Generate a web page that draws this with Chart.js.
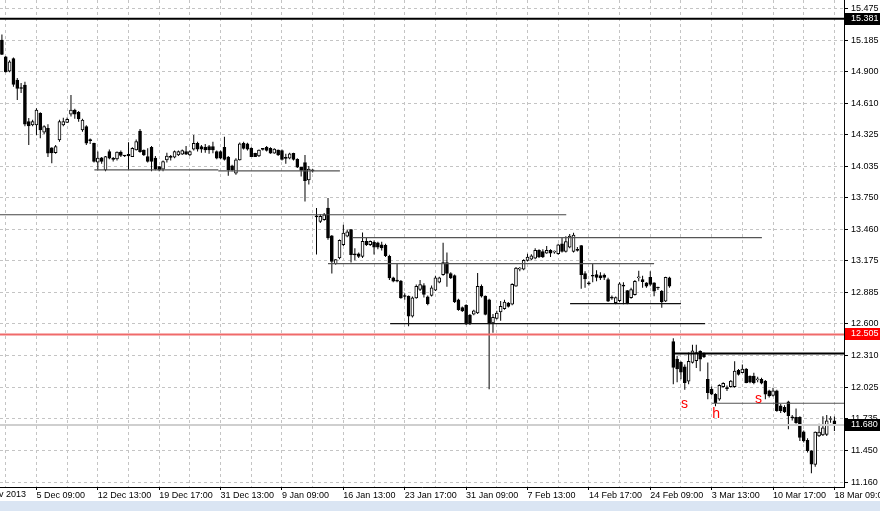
<!DOCTYPE html>
<html>
<head>
<meta charset="utf-8">
<script src="https://cdn.jsdelivr.net/npm/chart.js@4.4.1/dist/chart.umd.min.js"></script>
<style>
  html, body { margin: 0; padding: 0; background: #fff; }
  canvas { display: block; }
</style>
</head>
<body>
<canvas id="chart" width="880" height="511"></canvas>
<script>
// candles, oldest first
const opens = [
  15.185, 15.033, 14.903, 15.018, 14.821, 14.752, 14.776, 14.443, 14.412, 14.412,
  14.519, 14.346, 14.382, 14.204, 14.161, 14.276, 14.412, 14.437, 14.510, 14.549,
  14.528, 14.367, 14.397, 14.276, 14.246, 14.074, 14.113, 14.004, 14.170, 14.104,
  14.104, 14.165, 14.135, 14.146, 14.124, 14.185, 14.358, 14.185, 14.125, 14.210,
  14.110, 14.034, 14.010, 14.095, 14.120, 14.120, 14.140, 14.147, 14.170, 14.140,
  14.192, 14.246, 14.215, 14.210, 14.215, 14.215, 14.170, 14.170, 14.210, 14.120,
  14.040, 13.974, 14.095, 14.246, 14.240, 14.200, 14.155, 14.131, 14.192, 14.210,
  14.200, 14.155, 14.185, 14.180, 14.110, 14.110, 14.155, 14.100, 14.028, 14.070,
  13.913, 13.998, 13.580, 13.534, 13.550, 13.656, 13.404, 13.150, 13.201, 13.322,
  13.400, 13.459, 13.232, 13.240, 13.216, 13.352, 13.322, 13.343, 13.338, 13.322,
  13.316, 13.216, 13.020, 12.995, 12.990, 12.853, 12.853, 12.671, 12.838, 12.914,
  12.950, 12.848, 12.860, 12.908, 12.980, 13.050, 13.160, 13.060, 13.040, 12.820,
  12.750, 12.770, 12.680, 12.690, 12.700, 12.944, 12.853, 12.820, 12.610, 12.650,
  12.710, 12.740, 12.790, 12.780, 12.944, 13.100, 13.100, 13.180, 13.190, 13.200,
  13.270, 13.260, 13.245, 13.270, 13.255, 13.240, 13.330, 13.260, 13.300, 13.260,
  13.280, 13.313, 13.060, 12.970, 13.040, 13.050, 13.040, 13.045, 13.004, 12.840,
  12.793, 12.813, 12.950, 12.904, 12.840, 12.868, 13.020, 13.004, 12.975, 13.025,
  12.975, 12.930, 12.898, 12.807, 13.020, 12.440, 12.280, 12.250, 12.210, 12.080,
  12.250, 12.265, 12.350, 12.330, 12.096, 12.005, 11.960, 11.914, 12.030, 12.020,
  12.030, 12.030, 12.178, 12.157, 12.190, 12.125, 12.125, 12.090, 12.096, 12.080,
  11.990, 11.950, 11.990, 11.855, 11.840, 11.890, 11.750, 11.750, 11.750, 11.618,
  11.540, 11.445, 11.320, 11.580, 11.590, 11.595, 11.730, 11.717
];
const highs = [
  15.236, 15.040, 15.003, 15.027, 14.840, 14.794, 14.806, 14.476, 14.460, 14.564,
  14.528, 14.410, 14.419, 14.210, 14.230, 14.460, 14.479, 14.480, 14.685, 14.560,
  14.540, 14.470, 14.410, 14.290, 14.250, 14.170, 14.120, 14.130, 14.190, 14.120,
  14.170, 14.180, 14.140, 14.255, 14.210, 14.280, 14.376, 14.190, 14.200, 14.220,
  14.130, 14.040, 14.090, 14.160, 14.140, 14.180, 14.180, 14.190, 14.220, 14.180,
  14.322, 14.260, 14.230, 14.240, 14.230, 14.260, 14.180, 14.180, 14.306, 14.130,
  14.050, 14.110, 14.252, 14.260, 14.250, 14.210, 14.160, 14.190, 14.200, 14.220,
  14.210, 14.200, 14.190, 14.190, 14.150, 14.160, 14.160, 14.110, 14.030, 14.140,
  14.040, 14.010, 13.656, 13.600, 13.610, 13.747, 13.410, 13.190, 13.370, 13.504,
  13.460, 13.465, 13.290, 13.250, 13.434, 13.386, 13.360, 13.360, 13.350, 13.350,
  13.330, 13.230, 13.030, 13.156, 13.000, 12.880, 12.860, 12.850, 12.960, 13.000,
  12.970, 12.860, 12.950, 13.040, 13.030, 13.340, 13.250, 13.070, 13.050, 12.830,
  12.760, 12.780, 12.690, 12.730, 13.065, 12.960, 12.860, 12.830, 12.690, 12.720,
  12.810, 12.820, 12.800, 12.970, 13.120, 13.120, 13.190, 13.240, 13.235, 13.290,
  13.280, 13.280, 13.310, 13.280, 13.270, 13.330, 13.390, 13.400, 13.420, 13.430,
  13.300, 13.320, 13.080, 12.990, 13.146, 13.090, 13.070, 13.060, 13.020, 12.860,
  12.850, 12.980, 12.980, 12.910, 12.930, 13.000, 13.085, 13.040, 12.980, 13.080,
  12.980, 12.940, 12.910, 13.030, 13.030, 12.469, 12.310, 12.260, 12.230, 12.340,
  12.410, 12.410, 12.360, 12.340, 12.250, 12.030, 11.970, 12.050, 12.070, 12.040,
  12.090, 12.260, 12.190, 12.230, 12.200, 12.130, 12.155, 12.120, 12.110, 12.090,
  12.000, 12.020, 12.000, 11.870, 11.860, 11.900, 11.770, 11.830, 11.760, 11.630,
  11.560, 11.450, 11.620, 11.690, 11.760, 11.770, 11.760, 11.757
];
const lows = [
  15.050, 14.890, 14.894, 14.760, 14.640, 14.703, 14.400, 14.231, 14.400, 14.320,
  14.292, 14.330, 14.120, 14.065, 14.150, 14.260, 14.400, 14.430, 14.490, 14.470,
  14.443, 14.350, 14.230, 14.240, 14.070, 14.000, 14.060, 13.990, 14.100, 14.080,
  14.090, 14.120, 14.120, 14.004, 14.120, 14.180, 14.160, 14.130, 14.070, 13.990,
  14.000, 13.990, 13.990, 14.070, 14.090, 14.110, 14.130, 14.140, 14.140, 14.130,
  14.180, 14.170, 14.160, 14.160, 14.150, 14.155, 14.100, 14.100, 14.090, 13.950,
  13.990, 13.960, 14.090, 14.190, 14.180, 14.120, 14.120, 14.120, 14.180, 14.170,
  14.150, 14.150, 14.130, 14.090, 14.060, 14.100, 14.090, 14.020, 13.943, 13.716,
  13.870, 13.980, 13.232, 13.520, 13.540, 13.368, 13.059, 13.140, 13.190, 13.310,
  13.390, 13.159, 13.180, 13.200, 13.200, 13.310, 13.310, 13.232, 13.280, 13.270,
  13.210, 13.000, 12.980, 12.980, 12.830, 12.820, 12.580, 12.660, 12.830, 12.900,
  12.840, 12.770, 12.850, 12.900, 12.970, 13.040, 12.940, 13.010, 12.790, 12.720,
  12.710, 12.590, 12.590, 12.680, 12.690, 12.840, 12.680, 12.005, 12.520, 12.640,
  12.630, 12.730, 12.750, 12.770, 12.940, 13.080, 13.090, 13.170, 13.180, 13.190,
  13.200, 13.200, 13.240, 13.210, 13.240, 13.230, 13.250, 13.250, 13.290, 13.250,
  13.260, 12.920, 12.930, 12.950, 12.980, 12.990, 13.000, 13.000, 12.800, 12.820,
  12.780, 12.800, 12.780, 12.780, 12.830, 12.860, 12.990, 12.930, 12.930, 12.944,
  12.853, 12.910, 12.747, 12.800, 12.930, 12.050, 12.070, 12.096, 12.000, 12.050,
  12.240, 12.200, 12.170, 12.290, 11.914, 11.950, 11.850, 11.900, 12.020, 11.990,
  12.020, 12.020, 12.130, 12.150, 12.060, 12.060, 12.050, 12.070, 12.050, 11.914,
  11.930, 11.940, 11.800, 11.790, 11.790, 11.640, 11.720, 11.690, 11.535, 11.520,
  11.430, 11.240, 11.300, 11.570, 11.580, 11.580, 11.700, 11.626
];
const closes = [
  15.055, 14.897, 14.988, 14.782, 14.746, 14.745, 14.419, 14.403, 14.443, 14.549,
  14.367, 14.397, 14.155, 14.158, 14.215, 14.443, 14.443, 14.464, 14.549, 14.510,
  14.467, 14.458, 14.246, 14.270, 14.080, 14.110, 14.080, 14.125, 14.110, 14.100,
  14.165, 14.135, 14.130, 14.130, 14.201, 14.261, 14.170, 14.140, 14.080, 14.080,
  14.010, 14.004, 14.080, 14.130, 14.118, 14.170, 14.170, 14.180, 14.147, 14.170,
  14.246, 14.192, 14.192, 14.185, 14.185, 14.185, 14.110, 14.110, 14.100, 14.004,
  14.004, 14.095, 14.240, 14.200, 14.192, 14.125, 14.125, 14.185, 14.190, 14.180,
  14.155, 14.192, 14.140, 14.100, 14.108, 14.150, 14.100, 14.028, 13.998, 13.906,
  14.010, 13.995, 13.575, 13.580, 13.595, 13.383, 13.170, 13.186, 13.361, 13.429,
  13.440, 13.232, 13.230, 13.216, 13.352, 13.322, 13.352, 13.300, 13.300, 13.292,
  13.222, 13.020, 12.990, 12.990, 12.838, 12.850, 12.671, 12.838, 12.944, 12.959,
  12.870, 12.784, 12.930, 13.020, 13.020, 13.160, 13.060, 13.020, 12.800, 12.730,
  12.720, 12.600, 12.605, 12.720, 12.944, 12.853, 12.686, 12.600, 12.660, 12.700,
  12.760, 12.800, 12.760, 12.960, 13.110, 13.100, 13.180, 13.210, 13.220, 13.270,
  13.210, 13.210, 13.270, 13.245, 13.260, 13.320, 13.260, 13.350, 13.400, 13.410,
  13.270, 13.050, 13.010, 12.965, 13.035, 13.025, 13.020, 13.025, 12.807, 12.835,
  12.840, 12.965, 12.945, 12.793, 12.914, 12.989, 13.020, 12.985, 12.944, 12.960,
  12.898, 12.928, 12.802, 13.025, 12.944, 12.205, 12.190, 12.160, 12.066, 12.260,
  12.355, 12.340, 12.280, 12.300, 11.974, 11.960, 11.884, 12.040, 12.060, 12.010,
  12.080, 12.170, 12.140, 12.190, 12.066, 12.070, 12.066, 12.100, 12.060, 11.960,
  11.944, 11.990, 11.810, 11.810, 11.800, 11.764, 11.745, 11.700, 11.566, 11.535,
  11.445, 11.324, 11.615, 11.615, 11.655, 11.717, 11.735, 11.680
];

// time axis: one label every 16 bars, first one sits left of the chart
const timeLabels = ['28 Nov 2013', '5 Dec 09:00', '12 Dec 13:00', '19 Dec 17:00', '31 Dec 13:00',
  '9 Jan 09:00', '16 Jan 13:00', '23 Jan 17:00', '31 Jan 09:00', '7 Feb 13:00',
  '14 Feb 17:00', '24 Feb 09:00', '3 Mar 13:00', '10 Mar 17:00', '18 Mar 09:00'];
const firstTimeBar = -7;
const timeStep = 16;

const priceTicks = [11.160, 11.450, 11.735, 12.025, 12.310, 12.600, 12.885, 13.175,
  13.460, 13.750, 14.035, 14.325, 14.610, 14.900, 15.185, 15.475];

// horizontal lines drawn on the chart (bar = index, null = chart edge)
const levelLines = [
  { price: 15.381, from: null, to: null, color: '#000', width: 2 },
  { price: 14.004, from: 24.1, to: 56.4, color: '#555', width: 1.2 },
  { price: 13.995, from: 56.4, to: 88.1, color: '#555', width: 1.2 },
  { price: 13.595, from: null, to: 147.1, color: '#444', width: 1.2 },
  { price: 13.386, from: 91.5, to: 198.1, color: '#555', width: 1.2 },
  { price: 13.149, from: 85.0, to: 170.0, color: '#555', width: 1.2 },
  { price: 12.786, from: 148.1, to: 177.0, color: '#111', width: 1.2 },
  { price: 12.604, from: 101.2, to: 183.3, color: '#111', width: 1.2 },
  { price: 12.505, from: null, to: null, color: '#f06a6a', width: 2 },
  { price: 12.330, from: 175.0, to: null, color: '#000', width: 2 },
  { price: 11.878, from: 185.1, to: null, color: '#555', width: 1.2 },
  { price: 11.680, from: null, to: null, color: '#cfcfcf', width: 2 }
];
const patternMarks = [
  { text: 's', bar: 177.9, price: 11.869 },
  { text: 'h', bar: 186.2, price: 11.778 },
  { text: 's', bar: 197.2, price: 11.914 }
];
const priceTags = [
  { price: 15.381, bg: '#000' },
  { price: 12.505, bg: '#ff0000' },
  { price: 11.680, bg: '#000' }
];

const slotCount = 220;
const slots = Array.from({ length: slotCount }, (_, i) => String(i));
const bodyData = opens.map((o, i) => [o, closes[i]]);
const wickData = lows.map((l, i) => [l, highs[i]]);
const bodyColors = opens.map((o, i) => (closes[i] >= o ? '#fff' : '#000'));

function timeLabelAt(i) {
  const k = (i - firstTimeBar) / timeStep;
  return Number.isInteger(k) && k >= 0 && k < timeLabels.length ? timeLabels[k] : '';
}

const fontFamily = '"Liberation Sans", Arial, sans-serif';
Chart.defaults.font.family = fontFamily;
Chart.defaults.font.size = 9;
Chart.defaults.color = '#000';

const overlay = {
  id: 'overlay',
  beforeDraw(chart) {
    const { ctx, width, height } = chart;
    ctx.save();
    ctx.fillStyle = '#fff';
    ctx.fillRect(0, 0, width, height);
    ctx.fillStyle = '#dae5f3';
    ctx.fillRect(0, 501, width, height - 501);
    ctx.restore();
  },
  afterDatasetsDraw(chart) {
    const { ctx, chartArea: a, scales: { x, y } } = chart;
    ctx.save();
    ctx.beginPath();
    ctx.rect(a.left, a.top, a.right - a.left, a.bottom - a.top);
    ctx.clip();
    levelLines.forEach(l => {
      const py = y.getPixelForValue(l.price);
      const x1 = l.from === null ? a.left : x.getPixelForValue(l.from);
      const x2 = l.to === null ? a.right : x.getPixelForValue(l.to);
      ctx.strokeStyle = l.color;
      ctx.lineWidth = l.width;
      ctx.beginPath();
      ctx.moveTo(x1, py);
      ctx.lineTo(x2, py);
      ctx.stroke();
    });
    ctx.fillStyle = '#ff0000';
    ctx.font = '14px ' + fontFamily;
    ctx.textAlign = 'center';
    ctx.textBaseline = 'middle';
    patternMarks.forEach(m => ctx.fillText(m.text, x.getPixelForValue(m.bar), y.getPixelForValue(m.price)));
    ctx.restore();
  },
  afterDraw(chart) {
    const { ctx, width, chartArea: a, scales: { x, y } } = chart;
    ctx.save();
    ctx.font = '9px ' + fontFamily;
    ctx.textAlign = 'left';
    ctx.textBaseline = 'middle';
    priceTags.forEach(t => {
      const py = Math.round(y.getPixelForValue(t.price));
      ctx.fillStyle = t.bg;
      ctx.fillRect(a.right + 1, py - 6, width - a.right - 1, 12);
      ctx.fillStyle = '#fff';
      ctx.fillText(t.price.toFixed(3), a.right + 7, py);
    });
    // the first time label is cut by the left edge
    ctx.fillStyle = '#000';
    ctx.textBaseline = 'top';
    ctx.fillText(timeLabels[0], x.getPixelForValue(firstTimeBar), a.bottom + 3);
    ctx.restore();
  }
};

new Chart(document.getElementById('chart'), {
  type: 'bar',
  data: {
    labels: slots,
    datasets: [
      {
        label: 'body',
        data: bodyData,
        backgroundColor: bodyColors,
        borderColor: '#000',
        borderWidth: 1,
        borderSkipped: false,
        barThickness: 3,
        minBarLength: 1,
        grouped: false,
        order: 1
      },
      {
        label: 'wick',
        data: wickData,
        backgroundColor: '#000',
        borderWidth: 0,
        barThickness: 1,
        inflateAmount: 0,
        grouped: false,
        order: 2
      }
    ]
  },
  options: {
    responsive: false,
    animation: false,
    events: [],
    layout: { padding: 0 },
    plugins: {
      legend: { display: false },
      tooltip: { enabled: false }
    },
    scales: {
      x: {
        type: 'category',
        offset: true,
        grid: {
          offset: false,
          color: c => ((c.index - 1) % 8 === 0 ? '#c4c4c4' : 'rgba(0,0,0,0)'),
          tickColor: c => (timeLabelAt(c.index) ? '#000' : 'rgba(0,0,0,0)'),
          tickLength: 3,
          tickBorderDash: []
        },
        border: { display: true, color: '#000', width: 1, dash: [3, 3] },
        ticks: {
          autoSkip: false,
          maxRotation: 0,
          minRotation: 0,
          align: 'start',
          padding: 0,
          callback: (v, i) => timeLabelAt(i)
        },
        afterFit: s => { s.height = 24; s.paddingLeft = 0; s.paddingRight = 0; }
      },
      y: {
        type: 'linear',
        position: 'right',
        min: 11.115,
        max: 15.551,
        afterBuildTicks: s => { s.ticks = priceTicks.map(v => ({ value: v })); },
        grid: {
          color: '#c4c4c4',
          tickColor: '#000',
          tickLength: 4,
          tickBorderDash: []
        },
        border: { display: true, color: '#000', width: 1, dash: [3, 3] },
        ticks: {
          padding: 3,
          callback: v => v.toFixed(3)
        },
        afterFit: s => { s.width = 36; s.paddingTop = 0; s.paddingBottom = 0; }
      }
    }
  },
  plugins: [overlay]
});
</script>
</body>
</html>
